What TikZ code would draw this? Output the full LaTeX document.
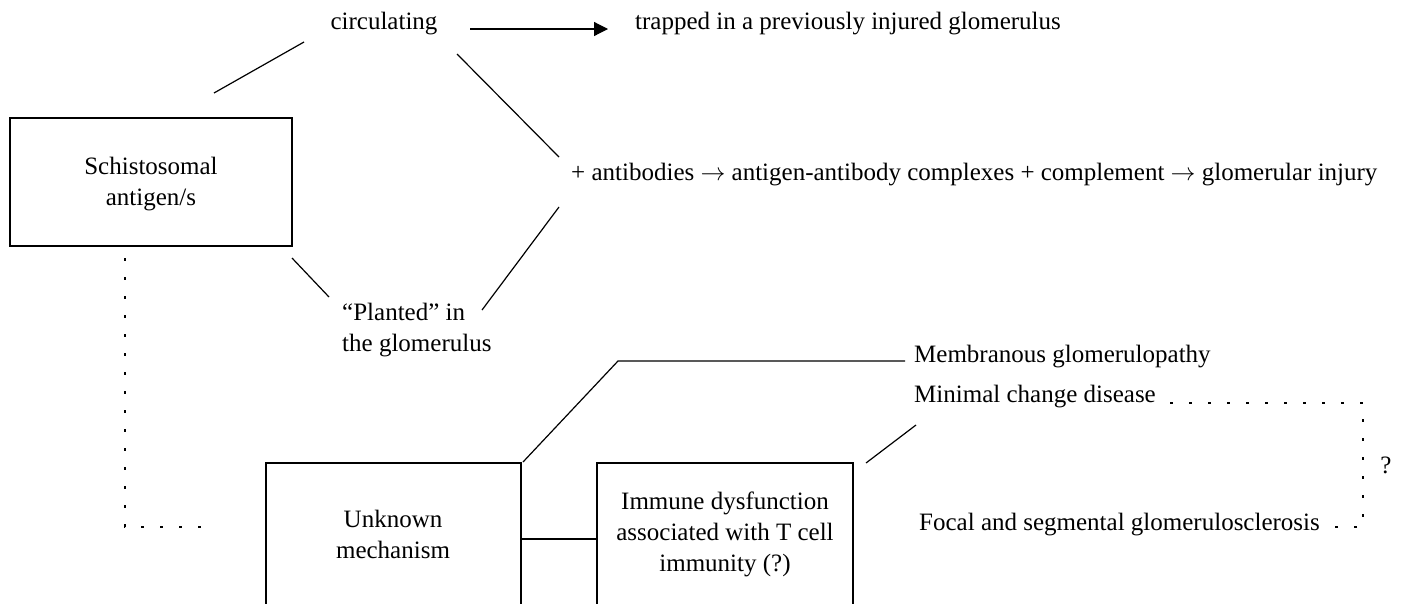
\documentclass[tikz,border=0pt]{standalone}
\usepackage{fontspec}
\setmainfont{Liberation Serif}
\usetikzlibrary{arrows.meta}
\tikzset{
  txt/.style={inner sep=0pt, font=\fontsize{25}{31}\selectfont, align=center},
  boxed/.style={draw, line width=1.2pt, inner sep=0pt},
  conn/.style={line width=1.2pt},
  dotline/.style={line width=1.2pt, dash pattern=on 3pt off 16pt},
}
\begin{document}
\begin{tikzpicture}[x=1pt,y=-1pt]
\useasboundingbox (0,0) rectangle (1407,603);
\clip (0,0) rectangle (1407,603);
% text nodes
\node[txt] (circ) at (384,24) {circulating};
\node[txt, anchor=west] (trap) at (635,24) {trapped in a previously injured glomerulus};
\node[txt, anchor=west] (anti) at (571,175) {+ antibodies $\rightarrow$ antigen-antibody complexes + complement $\rightarrow$ glomerular injury};
\node[txt, anchor=west, align=left] (plant) at (342,330) {``Planted'' in\\the glomerulus};
\node[txt, anchor=west] (memb) at (914,357) {Membranous glomerulopathy};
\node[txt, anchor=west] (mini) at (914,397) {Minimal change disease};
\node[txt, anchor=west] (focal) at (919,525) {Focal and segmental glomerulosclerosis};
\node[txt] (q) at (1386,465) {?};
% boxes
\draw[boxed] (10,118) rectangle (292,246);
\node[txt] (schisto) at (151,184) {Schistosomal\\antigen/s};
\draw[boxed] (266,463) rectangle (521,640);
\node[txt] (unk) at (393,534) {Unknown\\mechanism};
\draw[boxed] (597,463) rectangle (853,640);
\node[txt] (imm) at (725,534) {Immune dysfunction\\associated with T cell\\immunity (?)};
% connector end points
\coordinate (c1) at (304,42);
\coordinate (c2) at (214,93);
\coordinate (c3) at (457,54);
\coordinate (c4) at (559,157);
\coordinate (c5) at (559,207);
\coordinate (c6) at (482,310);
\coordinate (c7) at (292,258);
\coordinate (c8) at (329,297);
\coordinate (a1) at (470,29);
\coordinate (a2) at (608,29);
\coordinate (d1) at (125,258);
\coordinate (d2) at (125,527);
\coordinate (d3) at (212,527);
\coordinate (m1) at (523,462);
\coordinate (m2) at (618,361);
\coordinate (m3) at (905,361);
\coordinate (u1) at (521,539);
\coordinate (u2) at (597,539);
\coordinate (n1) at (866,463);
\coordinate (n2) at (916,425);
\coordinate (e1) at (1170,403);
\coordinate (e2) at (1363,403);
\coordinate (e3) at (1363,527);
\coordinate (e4) at (1330,527);
% connectors
\draw[conn] (c1) -- (c2);
\draw[conn] (c3) -- (c4);
\draw[conn] (c5) -- (c6);
\draw[conn] (c7) -- (c8);
\draw[conn, -{Triangle[length=14pt,width=14pt]}] (a1) -- (a2);
\draw[dotline] (d1) -- (d2) -- (d3);
\draw[conn] (m1) -- (m2) -- (m3);
\draw[conn] (u1) -- (u2);
\draw[conn] (n1) -- (n2);
\draw[dotline] (e1) -- (e2) -- (e3) -- (e4);
\end{tikzpicture}
\end{document}
